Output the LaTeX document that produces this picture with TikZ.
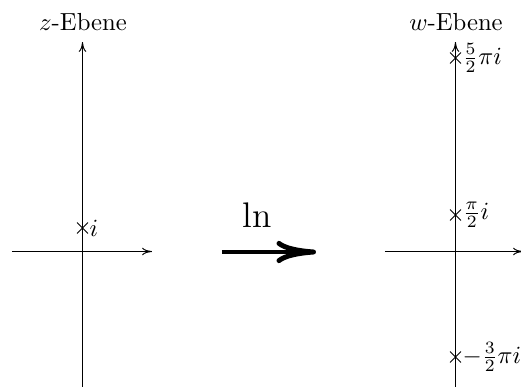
\documentclass[tikz,border=0pt]{standalone}
\usetikzlibrary{shapes.misc,arrows.meta}
\begin{document}
\begin{tikzpicture}[x=0.405pt,y=-0.405pt,
  axis/.style={line width=0.4pt,-{To[length=4pt,width=3pt]}},
  crs/.style={cross out,draw,line width=0.4pt,minimum size=4pt,inner sep=0pt},
  lbl/.style={anchor=west,inner sep=0.5pt}]
\useasboundingbox (0,0) rectangle (521,387);
% left plane
\coordinate (lxs) at (12,251.5);
\coordinate (lxe) at (152,251.5);
\coordinate (lys) at (82.5,392);
\coordinate (lye) at (82.5,42);
\draw[axis] (lxs) -- (lxe);
\draw[axis] (lys) -- (lye);
\node[anchor=base] (zt) at (83,30) {$z$-Ebene};
\node[crs] (ci) at (82.5,228) {};
\node[lbl] (li) at (ci.east) {$i$};
% arrow
\coordinate (as) at (222,252);
\coordinate (ae) at (316,252);
\draw[line width=2pt,-{To[length=16pt,width=9pt]}] (as) -- (ae);
\node[anchor=base,font=\Large] (ln) at (257,227) {ln};
% right plane
\coordinate (rxs) at (385,251.5);
\coordinate (rxe) at (523,251.5);
\coordinate (rys) at (455.5,392);
\coordinate (rye) at (455.5,42);
\draw[axis] (rxs) -- (rxe);
\draw[axis] (rys) -- (rye);
\node[anchor=base] (wt) at (456,30) {$w$-Ebene};
\node[crs] (c1) at (455.5,58) {};
\node[lbl] (l1) at (c1.east) {$\frac{5}{2}\pi i$};
\node[crs] (c2) at (455.5,215) {};
\node[lbl] (l2) at (c2.east) {$\frac{\pi}{2} i$};
\node[crs] (c3) at (455.5,357) {};
\node[lbl] (l3) at (c3.east) {$-\frac{3}{2}\pi i$};
\end{tikzpicture}
\end{document}
